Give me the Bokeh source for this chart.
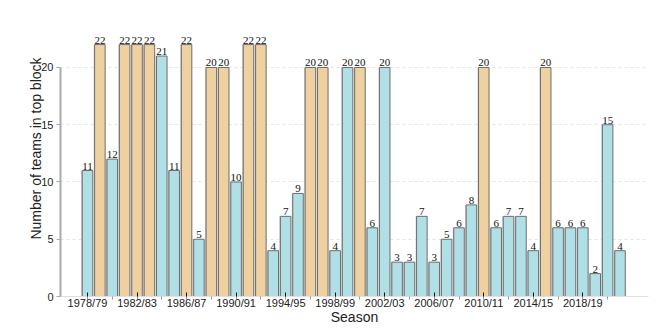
from bokeh.plotting import figure
from bokeh.models import ColumnDataSource, FixedTicker, Range1d
from bokeh.transform import dodge
from bokeh.embed import file_html
from bokeh.resources import INLINE

seasons = [f"{y}/{str(y + 1)[-2:]}" for y in range(1978, 2022)]
values = [11, 22, 12, 22, 22, 22, 21, 11, 22, 5, 20, 20, 10, 22, 22, 4, 7, 9, 20, 20,
          4, 20, 20, 6, 20, 3, 3, 7, 3, 5, 6, 8, 20, 6, 7, 7, 4, 20, 6, 6, 6, 2, 15, 4]
groups = ["a", "b", "a", "b", "b", "b", "a", "a", "b", "a", "b", "b", "a", "b", "b", "a",
          "a", "a", "b", "b", "a", "a", "b", "a", "a", "a", "a", "a", "a", "a", "a", "a",
          "b", "a", "a", "a", "a", "b", "a", "a", "a", "a", "a", "a"]
tick_every = 4
y_ticks = [0, 5, 10, 15, 20]

palette = {"a": "#b0dfe5", "b": "#efd0a0"}
FONT = "Liberation Sans"

idx = list(range(len(seasons)))
src = ColumnDataSource(dict(
    x=idx, top=values, label=[str(v) for v in values],
    color=[palette[g] for g in groups],
))

p = figure(width=660, height=330, output_backend="svg", toolbar_location=None,
           x_range=Range1d(-2.18, 45.3), y_range=Range1d(0, 25.85),
           min_border_left=60, min_border_right=12, min_border_top=0, min_border_bottom=34)
p.outline_line_color = None
p.background_fill_color = "white"

# shadow
p.vbar(x=dodge("x", -0.07, range=p.x_range), top="top", width=0.86, bottom=0, source=src,
       fill_color="#c4c4c4", line_color=None)
p.vbar(x="x", top="top", width=0.85, bottom=0, source=src,
       fill_color="color", line_color="#6e6e6e", line_width=1)
p.text(x="x", y="top", text="label", source=src, text_align="center",
       text_baseline="bottom", y_offset=-1, text_font_size="11px", text_color="#111111",
       text_font=FONT)

p.xgrid.grid_line_color = None
p.ygrid.ticker = FixedTicker(ticks=y_ticks)
p.ygrid.grid_line_color = "#e4e4e4"
p.ygrid.grid_line_dash = "3 3"

xa = p.xaxis[0]
xa.ticker = FixedTicker(ticks=idx[::tick_every], minor_ticks=idx[::2])
xa.major_label_overrides = {i: seasons[i] for i in idx[::tick_every]}
xa.axis_label = "Season"
xa.axis_line_color = "#e0e0e0"
xa.major_tick_line_color = "#111111"
xa.major_tick_in = 4
xa.major_tick_out = 1
xa.minor_tick_line_color = "#999999"
xa.minor_tick_in = 0
xa.minor_tick_out = 3
xa.major_label_standoff = -3
xa.axis_label_standoff = -3

ya = p.yaxis[0]
ya.ticker = FixedTicker(ticks=y_ticks)
ya.bounds = (0, 20)
ya.axis_label = "Number of teams in top block"
ya.axis_line_color = "#aaaaaa"
ya.axis_line_width = 2
ya.major_tick_line_color = "#aaaaaa"
ya.major_tick_in = 0
ya.major_tick_out = 4
ya.minor_tick_line_color = None
ya.major_label_standoff = 3
ya.axis_label_standoff = -6

for ax in (xa, ya):
    ax.major_label_text_font = FONT
    ax.major_label_text_font_size = "11px"
    ax.major_label_text_color = "#222222"
    ax.axis_label_text_font = FONT
    ax.axis_label_text_font_size = "14px"
    ax.axis_label_text_font_style = "normal"
    ax.axis_label_text_color = "#222222"

open("out.html", "w").write(file_html(p, INLINE))
